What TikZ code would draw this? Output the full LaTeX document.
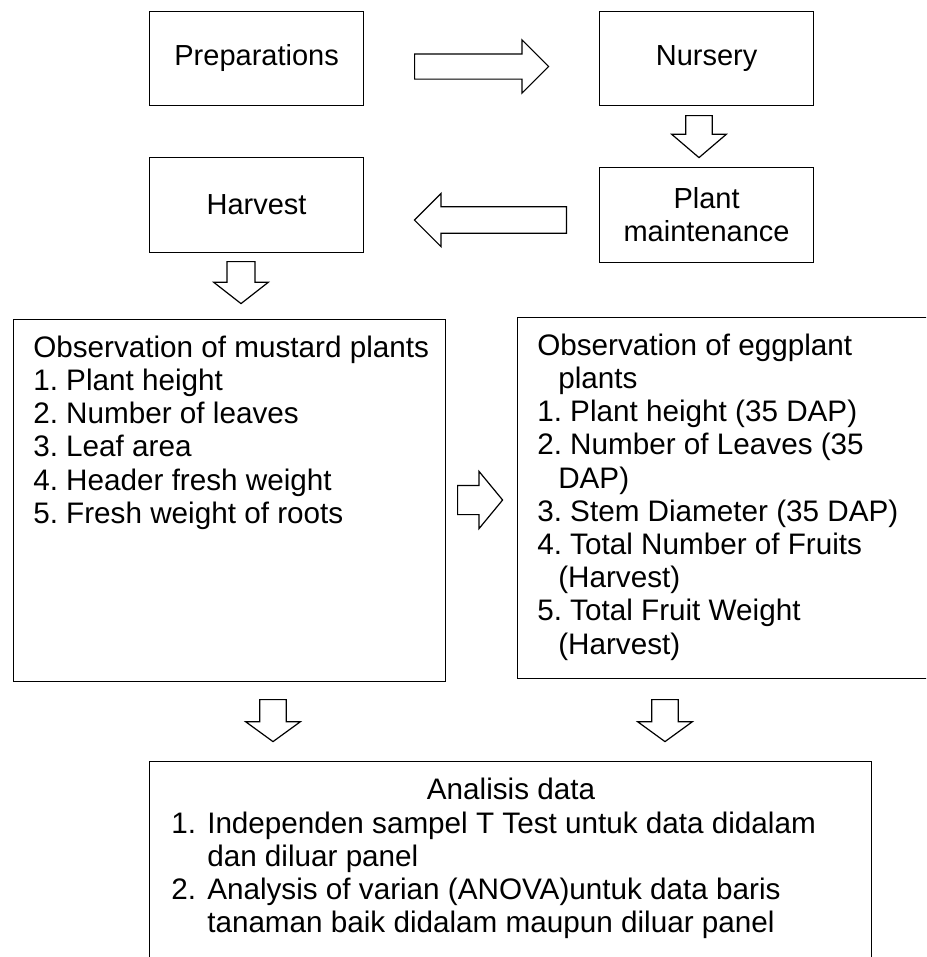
\documentclass[tikz,border=0pt]{standalone}
\usepackage{fontspec}
\setmainfont{Liberation Sans}
\usetikzlibrary{shapes.arrows}
\frenchspacing

\begin{document}
\begin{tikzpicture}[x=0.75pt,y=-0.75pt,
  box/.style={draw, line width=0.9pt, anchor=north west, inner sep=0pt,
    minimum width=160.5pt, minimum height=71pt, align=center,
    font=\fontsize{21.75}{24.9}\selectfont},
  bigbox/.style={draw, line width=0.9pt, anchor=north west, inner sep=0pt},
  boxtext/.style={anchor=north west, inner sep=0pt, align=left,
    font=\fontsize{22.25}{24.9}\selectfont},
  blockarrow/.style={draw, line width=0.9pt, fill=white, single arrow, anchor=tail,
    inner xsep=0pt, inner ysep=9.5pt, minimum width=40.5pt,
    single arrow head extend=10.5pt, minimum height=31.5pt}]
\useasboundingbox (0,0) rectangle (926,957);
\clip (0,0) rectangle (926,957);

% small boxes
\node[box] (prep) at (149,10.5) {Preparations};
\node[box] (nurs) at (599,10.5) {Nursery};
\node[box] (harv) at (149,157) {Harvest};
\node[box] (maint) at (599,167) {Plant\\maintenance};

% observation boxes (the right one and the last one run off the page)
\node[bigbox, minimum width=324pt, minimum height=271.5pt] (mus) at (13,319) {};
\node[bigbox, minimum width=330pt, minimum height=270.75pt] (egg) at (517,317) {};
\node[bigbox, minimum width=541.5pt, minimum height=180pt] (ana) at (149,761) {};

\node[boxtext] (mustxt) at (33,333.8) {\strut Observation of mustard plants\\
  1. Plant height\\
  2. Number of leaves\\
  3. Leaf area\\
  4. Header fresh weight\\
  5. Fresh weight of roots};
\node[boxtext] (eggtxt) at (537,331.8) {\strut Observation of eggplant\\
  \hspace*{15.75pt}plants\\
  1. Plant height (35 DAP)\\
  2. Number of Leaves (35\\
  \hspace*{15.75pt}DAP)\\
  3. Stem Diameter (35 DAP)\\
  4. Total Number of Fruits\\
  \hspace*{15.75pt}(Harvest)\\
  5. Total Fruit Weight\\
  \hspace*{15.75pt}(Harvest)};
\node[boxtext, anchor=base] (anatitle) at (511,799) {Analisis data};
\node[boxtext] (anatxt) at (171,809.8) {\strut\makebox[27pt][l]{1.}Independen sampel T Test untuk data didalam\\
  \hspace*{27pt}dan diluar panel\\
  \makebox[27pt][l]{2.}Analysis of varian (ANOVA)untuk data baris\\
  \hspace*{27pt}tanaman baik didalam maupun diluar panel};

% block arrows
\node[blockarrow, minimum height=100.5pt, minimum width=39pt, inner ysep=9pt, single arrow tip angle=90] (a1) at (414,66.5) {}; % Preparations -> Nursery
\node[blockarrow, rotate=-90, single arrow tip angle=99] (a2) at (699,115) {}; % Nursery -> Plant maintenance
\node[blockarrow, rotate=180, minimum height=114pt, minimum width=39pt, single arrow head extend=10pt, single arrow tip angle=90] (a3) at (567,220) {}; % Plant maintenance -> Harvest
\node[blockarrow, rotate=-90, inner ysep=10pt, single arrow head extend=10pt, single arrow tip angle=104] (a4) at (241,261) {}; % Harvest -> mustard
\node[blockarrow, minimum height=33.75pt, minimum width=42pt, inner ysep=10.5pt, single arrow tip angle=101] (a5) at (457,500) {}; % mustard -> eggplant
\node[blockarrow, rotate=-90, single arrow tip angle=108] (a6) at (273,699) {}; % mustard -> analisis
\node[blockarrow, rotate=-90, single arrow tip angle=108] (a7) at (665,699) {}; % eggplant -> analisis
\end{tikzpicture}
\end{document}
